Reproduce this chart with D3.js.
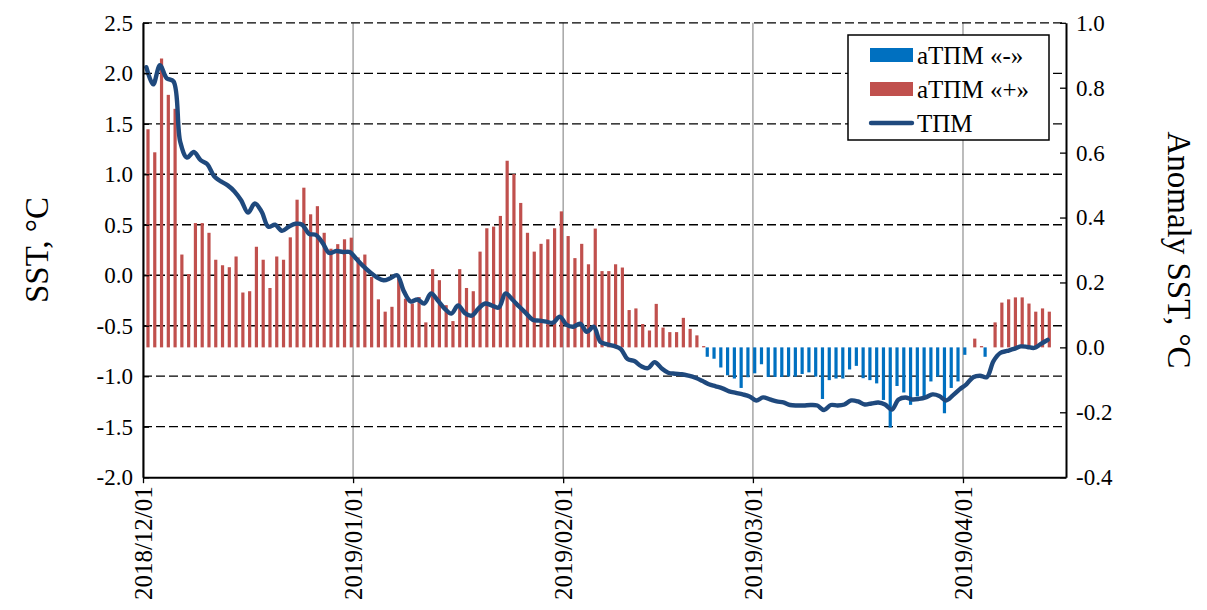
<!DOCTYPE html>
<html>
<head>
<meta charset="utf-8">
<script src="https://cdn.jsdelivr.net/npm/d3@7"></script>
<style>
  body { margin: 0; background: #fff; }
</style>
</head>
<body>
<div id="chart"></div>
<script>
// daily series, starting 2018/12/01
var startDate = Date.UTC(2018, 11, 1)
var monthTicks = ["2018/12/01", "2019/01/01", "2019/02/01", "2019/03/01", "2019/04/01"]

// SST (left axis), one value per day
var sst = [
  2.06, 1.89, 2.08, 1.95, 1.92, 1.32, 1.165, 1.22, 1.14, 1.10,
  0.98, 0.93, 0.89, 0.83, 0.74, 0.62, 0.71, 0.63, 0.48, 0.50,
  0.44, 0.48, 0.51, 0.50, 0.41, 0.40, 0.32, 0.22, 0.24, 0.23,
  0.23, 0.16, 0.09, 0.03, -0.02, -0.05, -0.03, 0.00, -0.16, -0.26,
  -0.24, -0.28, -0.18, -0.25, -0.33, -0.38, -0.30, -0.375, -0.40, -0.33,
  -0.28, -0.30, -0.32, -0.18, -0.24, -0.31, -0.375, -0.44, -0.45, -0.46,
  -0.47, -0.41, -0.49, -0.51, -0.48, -0.56, -0.51, -0.66, -0.685, -0.70,
  -0.73, -0.83, -0.85, -0.90, -0.92, -0.86, -0.92, -0.965, -0.975, -0.98,
  -0.995, -1.015, -1.045, -1.08, -1.10, -1.12, -1.15, -1.165, -1.18, -1.20,
  -1.24, -1.21, -1.23, -1.25, -1.26, -1.285, -1.29, -1.29, -1.285, -1.29,
  -1.335, -1.285, -1.29, -1.28, -1.24, -1.25, -1.28, -1.27, -1.26, -1.28,
  -1.33, -1.23, -1.21, -1.23, -1.225, -1.21, -1.18, -1.195, -1.24, -1.19,
  -1.13, -1.08, -1.01, -0.995, -1.01, -0.85, -0.77, -0.75, -0.73, -0.705,
  -0.71, -0.72, -0.68, -0.64
]

// SST anomaly (right axis); > 0 is aTPM "+", < 0 is aTPM "-"
var anomaly = [
  0.672, 0.601, 0.890, 0.778, 0.735, 0.286, 0.226, 0.383, 0.383, 0.353,
  0.270, 0.253, 0.247, 0.280, 0.169, 0.173, 0.310, 0.270, 0.183, 0.280,
  0.270, 0.339, 0.455, 0.492, 0.410, 0.435, 0.353, 0.304, 0.318, 0.333,
  0.338, 0.277, 0.286, 0.217, 0.148, 0.110, 0.125, 0.212, 0.150, 0.135,
  0.155, 0.077, 0.241, 0.207, 0.130, 0.081, 0.241, 0.183, 0.173, 0.295,
  0.367, 0.372, 0.405, 0.575, 0.534, 0.445, 0.353, 0.295, 0.319, 0.333,
  0.367, 0.419, 0.343, 0.275, 0.319, 0.256, 0.366, 0.235, 0.235, 0.256,
  0.246, 0.115, 0.120, 0.072, 0.052, 0.134, 0.061, 0.047, 0.047, 0.091,
  0.057, 0.037, 0.004, -0.029, -0.035, -0.062, -0.086, -0.096, -0.125, -0.092,
  -0.080, -0.052, -0.091, -0.091, -0.091, -0.090, -0.090, -0.082, -0.077, -0.090,
  -0.159, -0.101, -0.096, -0.096, -0.068, -0.057, -0.095, -0.101, -0.111, -0.162,
  -0.247, -0.119, -0.139, -0.177, -0.151, -0.151, -0.105, -0.090, -0.203, -0.125,
  -0.105, -0.023, 0.027, 0.004, -0.029, 0.077, 0.138, 0.148, 0.154, 0.154,
  0.135, 0.110, 0.120, 0.110
]

var leftTicks = [-2.0, -1.5, -1.0, -0.5, 0.0, 0.5, 1.0, 1.5, 2.0, 2.5]
var rightTicks = [-0.4, -0.2, 0.0, 0.2, 0.4, 0.6, 0.8, 1.0]
var seriesNames = ["аТПМ «-»", "аТПМ «+»", "ТПМ"]
var colors = {neg: "#0070C0", pos: "#C0504D", line: "#1F497D"}
var serif = "'Liberation Serif', 'Times New Roman', serif"

var width = 1207, height = 610
// plot box (window.top is read only, so no bare "top")
var pLeft = 143, pRight = 1066, pTop = 22.8, pBottom = 477.2
var DAY = 86400000

var svg = d3.select("#chart").append("svg")
  .attr("width", width)
  .attr("height", height)
  .style("font-family", serif)

var x = d3.scaleUtc()
  .domain([new Date(startDate), new Date(startDate + 136.2 * DAY)])
  .range([pLeft, pRight])
var yL = d3.scaleLinear().domain([-2, 2.5]).range([pBottom, pTop])
var yR = d3.scaleLinear().domain([-0.4, 1.0]).range([pBottom, pTop])

var parse = d3.utcParse("%Y/%m/%d")
var dayCenter = function(i) { return x(new Date(startDate + i * DAY + DAY / 2)) }

// vertical grid at month starts
svg.append("g").selectAll("line")
  .data(monthTicks)
  .enter().append("line")
    .attr("x1", function(d) { return x(parse(d)) })
    .attr("x2", function(d) { return x(parse(d)) })
    .attr("y1", pTop).attr("y2", pBottom)
    .attr("stroke", "#989898")
    .attr("stroke-width", 1.3)

// horizontal dashed grid (left axis)
svg.append("g").selectAll("line")
  .data(leftTicks.filter(function(d) { return d > -2 }))
  .enter().append("line")
    .attr("x1", pLeft).attr("x2", pRight)
    .attr("y1", function(d) { return yL(d) })
    .attr("y2", function(d) { return yL(d) })
    .attr("stroke", "#000")
    .attr("stroke-width", 1.3)
    .attr("stroke-dasharray", "9,4")

// anomaly bars, clustered: "-" left half, "+" right half of each day
var barW = 3.2
var base = yR(0)
svg.append("g").selectAll("rect")
  .data(anomaly)
  .enter().append("rect")
    .attr("x", function(d, i) { return d < 0 ? dayCenter(i) - barW : dayCenter(i) })
    .attr("width", barW)
    .attr("y", function(d) { return d < 0 ? base : yR(d) })
    .attr("height", function(d) { return Math.abs(yR(d) - base) })
    .attr("fill", function(d) { return d < 0 ? colors.neg : colors.pos })

// SST line
var line = d3.line()
  .x(function(d, i) { return dayCenter(i) })
  .y(function(d) { return yL(d) })
  .curve(d3.curveCatmullRom.alpha(0.5))

svg.append("path")
  .datum(sst)
  .attr("d", line)
  .attr("fill", "none")
  .attr("stroke", colors.line)
  .attr("stroke-width", 4.4)
  .attr("stroke-linejoin", "round")
  .attr("stroke-linecap", "round")

// axes
var fmt = function(d) { return d3.format(".1f")(d).replace("−", "-") }
var axL = svg.append("g").attr("transform", "translate(" + pLeft + ",0)")
  .call(d3.axisLeft(yL).tickValues(leftTicks).tickFormat(fmt).tickSizeInner(-6).tickSizeOuter(0).tickPadding(10))
var axR = svg.append("g").attr("transform", "translate(" + pRight + ",0)")
  .call(d3.axisRight(yR).tickValues(rightTicks).tickFormat(fmt).tickSizeInner(-6).tickSizeOuter(0).tickPadding(10))
var axX = svg.append("g").attr("transform", "translate(0," + pBottom + ")")
  .call(d3.axisBottom(x).tickValues(monthTicks.map(parse)).tickFormat(d3.utcFormat("%Y/%m/%d")).tickSizeInner(6).tickSizeOuter(0))

;[axL, axR, axX].forEach(function(g) {
  g.attr("font-family", serif)
  g.select(".domain").attr("stroke", "#000").attr("stroke-width", 2)
  g.selectAll(".tick line").attr("stroke", "#000").attr("stroke-width", 1.3)
  g.selectAll("text").style("font-family", serif).style("font-size", "23px").attr("fill", "#000")
})

axX.selectAll(".tick text")
  .style("font-size", "25px")
  .attr("transform", "rotate(-90)")
  .attr("text-anchor", "end")
  .attr("x", -9)
  .attr("y", 0)
  .attr("dy", "0.35em")

// axis titles
svg.append("text")
  .attr("transform", "translate(36," + (pTop + pBottom) / 2 + ") rotate(-90)")
  .attr("text-anchor", "middle")
  .attr("dy", "0.35em")
  .style("font-family", serif)
  .style("font-size", "33px")
  .text("SST, °C")

svg.append("text")
  .attr("transform", "translate(1180," + (pTop + pBottom) / 2 + ") rotate(90)")
  .attr("text-anchor", "middle")
  .attr("dy", "0.35em")
  .style("font-family", serif)
  .style("font-size", "33px")
  .text("Anomaly SST, °C")

// legend
var lg = svg.append("g").attr("transform", "translate(848,35)")
lg.append("rect")
  .attr("width", 201).attr("height", 105)
  .attr("fill", "#fff").attr("stroke", "#000").attr("stroke-width", 1.5)

var items = [
  {name: seriesNames[0], type: "bar", color: colors.neg},
  {name: seriesNames[1], type: "bar", color: colors.pos},
  {name: seriesNames[2], type: "line", color: colors.line}
]
var row = lg.selectAll(".item").data(items).enter().append("g")
  .attr("transform", function(d, i) { return "translate(0," + (20 + i * 34) + ")" })

row.filter(function(d) { return d.type == "bar" }).append("rect")
  .attr("x", 22).attr("y", -7).attr("width", 43).attr("height", 14)
  .attr("fill", function(d) { return d.color })
row.filter(function(d) { return d.type == "line" }).append("line")
  .attr("x1", 23).attr("x2", 64).attr("y1", 0).attr("y2", 0)
  .attr("stroke", function(d) { return d.color })
  .attr("stroke-width", 4.4).attr("stroke-linecap", "round")
row.append("text")
  .attr("x", 69).attr("y", 0).attr("dy", "0.35em")
  .style("font-family", serif)
  .style("font-size", "25px")
  .text(function(d) { return d.name })
</script>
</body>
</html>
